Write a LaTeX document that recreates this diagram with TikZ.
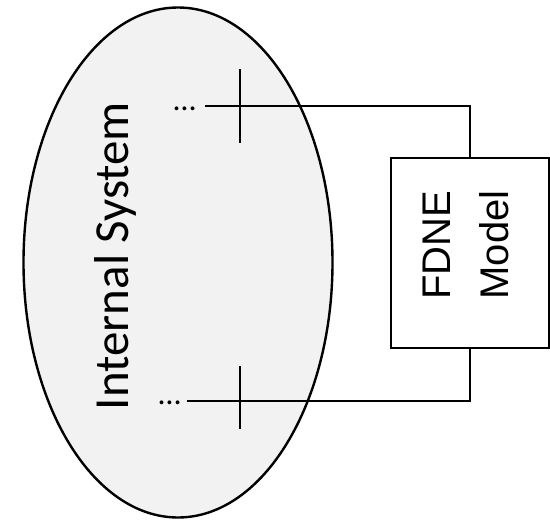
\documentclass[tikz,border=0pt]{standalone}
\usepackage{fontspec}
\setmainfont{Carlito}
\newfontfamily\arialfont{Liberation Sans}
\usetikzlibrary{shapes.geometric}
\definecolor{sysgray}{HTML}{F2F2F2}
\begin{document}
\begin{tikzpicture}[x=1pt,y=-1pt,
  sysshape/.style={ellipse, draw, line width=2.4pt, fill=sysgray, minimum width=309pt, minimum height=510pt, inner sep=0pt, outer sep=0pt},
  boxshape/.style={draw, line width=1.8pt, fill=white, minimum width=158pt, minimum height=190pt, inner sep=0pt, outer sep=0pt},
  wire/.style={line width=2.1pt},
  bar/.style={line width=2.3pt},
  dotlabel/.style={font=\fontsize{32pt}{36pt}\selectfont, inner sep=0pt, anchor=base east},
  systext/.style={font=\fontsize{49pt}{58pt}\selectfont, rotate=90, anchor=base, inner sep=0pt},
  boxtext/.style={font=\arialfont\fontsize{40pt}{58pt}\selectfont, rotate=90, align=center, inner sep=0pt}
]
\useasboundingbox (0,0) rectangle (550,520);
\node[sysshape] (sys) at (178,262.5) {};
\node[systext] (systxt) at (128,256) {Internal System};
\node[boxshape] (fdne) at (470,253) {};
\node[boxtext] (fdnetxt) at (466,245) {FDNE\\Model};
% top port
\node[dotlabel] (dotsT) at (196,110) {…};
\coordinate (t1) at (205,106);
\coordinate (cT1) at (240,69);
\coordinate (cT2) at (240,143);
\draw[wire] (t1) -| (fdne.north);
\draw[bar] (cT1) -- (cT2);
% bottom port
\node[dotlabel] (dotsB) at (181,404) {…};
\coordinate (b1) at (187,401);
\coordinate (cB1) at (240,366);
\coordinate (cB2) at (240,429);
\draw[wire] (b1) -| (fdne.south);
\draw[bar] (cB1) -- (cB2);
\end{tikzpicture}
\end{document}
